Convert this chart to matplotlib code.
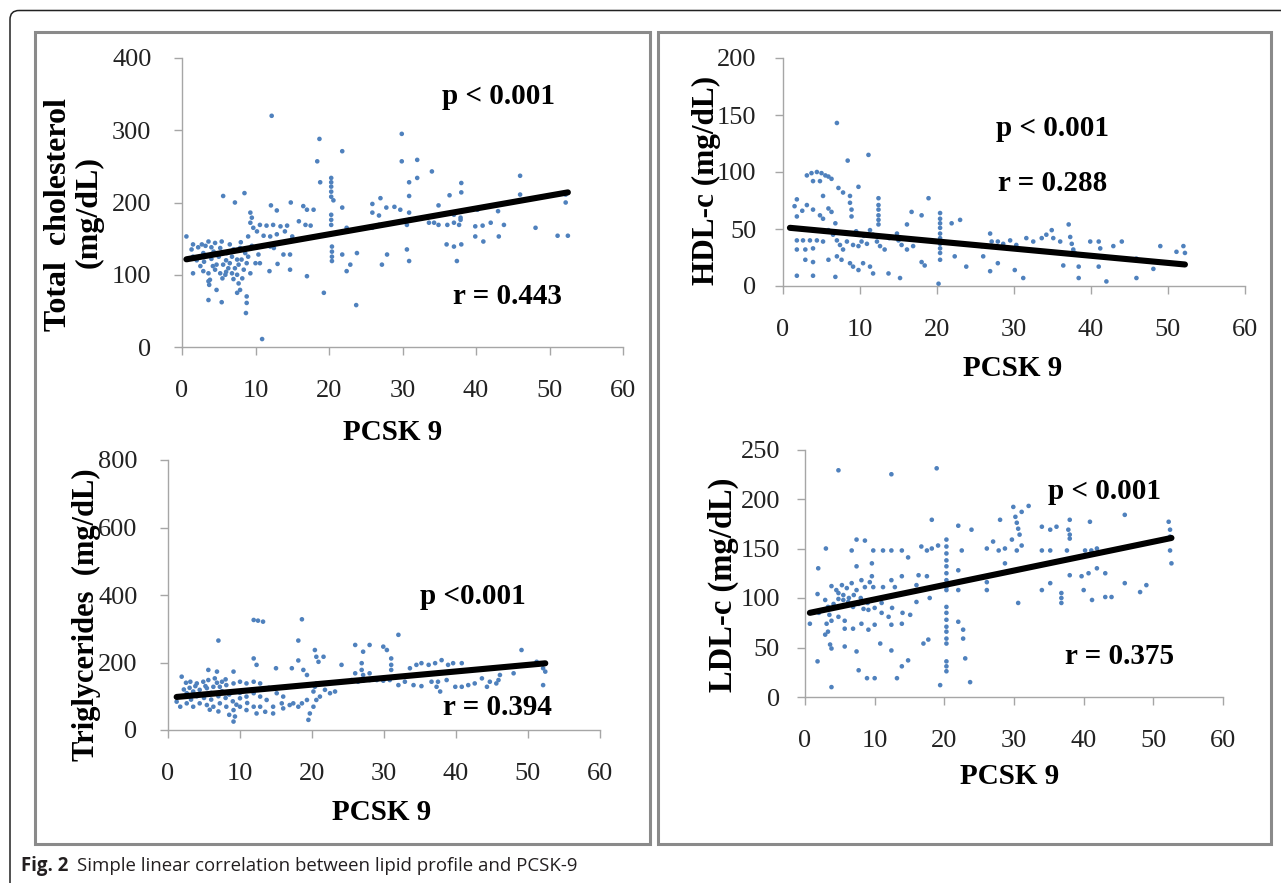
import matplotlib
matplotlib.use("Agg")
import matplotlib.pyplot as plt
from matplotlib.patches import FancyBboxPatch, Rectangle
from matplotlib.transforms import Affine2D
import numpy as np

# ---------------------------------------------------------------- data
# PCSK9 (x) against each lipid (y); one point per subject
tc_pcsk = [12.2, 18.7, 21.8, 29.9, 18.4, 29.9, 32, 34, 32, 30.9, 18.8,
           20.3, 20.3, 20.3, 20.3, 20.3, 20.6,
           46, 38, 38, 8.5, 5.6, 7.2, 27, 25.9, 30.9, 36.4, 46, 52.2, 52.2,
           12.1, 12.9, 14.8, 16.5, 17, 17.9, 21.8,
           25.9, 26.8, 27.8, 28.9, 29.7, 30.9, 30.9, 34.9, 40.2, 41, 43,
           9.3, 9.5, 9.3, 9.7, 10.6, 11.5, 12.4, 13.4, 14.3,
           15.9, 16.8, 17.5, 20.3, 20.3, 20.3, 22.4, 25.9, 26.8, 30.6,
           33.6, 34.3, 34.9, 36.1, 37, 37.7, 37.9, 39.9, 40.9, 42, 43.8, 37.9, 37,
           0.6, 1.5, 2.7, 3.6, 4.5, 5.4,
           9, 10.2, 11.1, 12, 12.9, 14, 15,
           20.4, 20.4, 20.4, 20.4, 21.8, 22.9, 22.4, 23.8, 27.2, 27.9, 30.6, 30.9,
           36, 37, 38, 37.4, 39.9, 41, 43.1, 48.1, 51.1, 52.5,
           1.5, 2.5, 2.9, 3.6, 3.8, 4.5, 4.7, 5.2, 5.6, 5.9, 6.3, 6.5, 6.8, 7.2,
           7.5, 7.7, 8.1, 8.4, 8.8, 9.0, 9.3, 10, 10.4, 10.6,
           1.5, 2.9, 4.3, 5.2, 6.1, 7, 7.9, 8.6,
           3.6, 3.7, 4.7, 7.7, 7.9, 7.5, 8.8, 8.8, 3.6, 5.4, 8.7,
           11.9, 13, 13.8, 14.7, 14.7, 17, 19.3, 23.7, 10.9, 10.6, 12, 12.5,
           2, 3, 4, 5, 6, 6.8, 7.5, 8.2, 5.5, 4.2, 6, 7, 1.3, 2.2, 3.2, 4, 9.5, 8, 6.5]
tc_value = [320, 288, 271, 295, 257, 257, 259, 243, 234, 228, 228,
            234, 228, 222, 215, 208, 203,
            237, 227, 214, 213, 209, 200, 206, 198, 209, 210, 211, 211, 200,
            196, 189, 200, 195, 190, 190, 193,
            186, 182, 193, 194, 190, 186, 176, 196, 190, 193, 188,
            186, 179, 172, 165, 169, 168, 169, 167, 168,
            174, 169, 168, 183, 176, 169, 165, 165, 169, 169,
            172, 172, 169, 169, 172, 169, 176, 167, 168, 172, 169, 179, 183,
            153, 142, 142, 146, 144, 146,
            153, 160, 154, 153, 156, 160, 153,
            139, 132, 125, 119, 128, 114, 105, 130, 114, 128, 135, 119,
            142, 139, 142, 119, 153, 146, 153, 165, 154, 154,
            102, 112, 105, 102, 93, 107, 114, 102, 114, 100, 109, 116, 102, 109,
            121, 114, 121, 107, 116, 125, 102, 116, 128, 116,
            125, 130, 132, 137, 130, 135, 137, 130,
            91, 86, 79, 88, 79, 75, 70, 61, 65, 62, 47,
            105, 115, 128, 128, 107, 98, 75, 58, 11, 139, 139, 137,
            120, 118, 122, 125, 120, 125, 100, 95, 95, 112, 104, 94, 135, 138, 140, 138, 140, 145, 142]

hdl_pcsk = [7.0, 11.1, 8.4,
            3.1, 3.7, 4.4, 5.0, 5.5, 5.9, 6.3, 3.9, 4.8,
            9.8, 7.2, 7.8, 8.7, 8.7, 8.9, 8.9, 5.2, 1.8, 1.8,
            3.1, 3.9, 4.8, 5.2, 5.9, 6.3,
            12.4, 12.4, 12.4, 12.4, 12.4, 12.4, 18.9, 16.7, 18,
            20.4, 20.4, 20.4, 20.4, 20.4, 20.4, 20.4, 20.4, 20.4, 20.4, 20.2,
            21.9, 23, 16.1,
            0.9, 1.8, 2.6, 3.5, 4.4, 5.2, 5.9, 6.5, 7, 7.4, 7.8,
            8.3, 9.1, 9.8, 10.2, 10.9, 11.3, 11.7, 12.2, 12.6, 13.2,
            14.8, 15, 15.4, 16.1, 16.9, 1.8, 2.9, 3.9,
            2.9, 3.9, 5.9, 7, 7.6, 8.7, 9.1, 9.8, 10.4, 11.3,
            11.7, 13.7, 15.2, 1.8, 3.9, 6.8, 18, 18.4, 22.3, 23.8,
            25.8, 26, 26.9, 27.1, 27.9, 28.6, 29.5, 30.3, 30.6,
            26.9, 27.9, 30.1, 31.2,
            31.6, 32.5, 33.6, 34.2, 34.9, 35.1, 36,
            36.4, 37.1, 37.3, 37.5, 37.7, 37.9, 38.4, 38.4,
            39.9, 41, 41.2, 42, 41,
            42.9, 44, 45.9, 45.9, 48.1, 49, 51.1, 52, 52.2,
            1.5, 2.5, 6.8, 9.5, 10.5, 13.8]
hdl_value = [143, 115, 110,
             97, 99, 100, 99, 97, 96, 94, 92, 92,
             87, 86, 82, 79, 73, 67, 61, 79, 76, 61,
             71, 67, 62, 59, 68, 65,
             77, 71, 67, 62, 58, 54, 77, 65, 62,
             64, 59, 55, 51, 46, 42, 37, 33, 29, 23, 2,
             55, 58, 54,
             51, 40, 40, 40, 40, 39, 49, 45, 40, 36, 32,
             39, 36, 35, 39, 37, 49, 45, 39, 35, 32,
             46, 40, 36, 32, 35, 32, 32, 33,
             23, 21, 23, 26, 23, 20, 17, 14, 20, 17,
             11, 11, 7, 9, 9, 8, 21, 18, 26, 17,
             35, 26, 46, 39, 39, 37, 40, 36, 32,
             13, 20, 14, 7,
             42, 39, 42, 45, 49, 42, 39,
             18, 54, 43, 37, 32, 29, 17, 7,
             39, 39, 33, 4, 17,
             35, 39, 24, 7, 15, 35, 30, 35, 29,
             70, 66, 55, 48, 44, 42]

tg_pcsk = [11.9, 12.5, 13.2, 18.6, 7, 18.1, 32,
           26, 28, 29.9, 30.4, 20.4, 27.1, 49.1,
           11.9, 12.3, 18.1, 20.6, 20.9, 21.6, 15, 17.2, 24.1, 26.9, 26.9,
           31, 31, 31, 33.6, 34.5, 35.2, 36.2, 37.1, 38, 38.9, 39.6, 40.8,
           9.1, 6.8, 5.6, 18.8, 19.3, 26, 27.1, 28, 46.1, 48,
           51.2, 52.1, 52.4, 52.1, 45.9, 45.6,
           25.5, 26.4, 27.1, 28, 29, 29.9, 30.8,
           32, 32.9, 34.1, 35.2, 36.6, 37.5, 38.7, 37.3, 37.8,
           39.9, 40.8, 41.7, 42.6, 43.6, 44.3, 44.7,
           23.2, 22.5, 21.8, 21.1, 20.6, 20.2, 19.7, 19.3, 18.6, 18.1, 17.4, 19.5,
           20.2, 20.4, 20.6,
           1.2, 1.9, 2.6, 3.5, 4.4, 5.4, 6.3, 7.2, 8.1, 9.1, 10, 10.9, 11.9, 12.8,
           1.9, 3.1, 4, 4.9, 5.6, 6.5, 7.5,
           1.7, 2.6, 3.5, 4.4, 5.4, 6.3, 7.2, 8.1, 9.1, 9.3, 9.1, 10, 10.9, 11.9,
           12.3, 12.8, 13.5, 14.6, 14.6, 15.8, 16, 16.9, 16, 15.1,
           11.9, 12.8, 13.7, 10.9, 10,
           2.2, 3, 4, 5, 6, 7, 8, 9, 10, 6, 7.5, 8.5, 3.2, 4.8, 5.8, 7, 8.5,
           9.5, 11, 13, 14, 2.5, 3.8, 5.2, 6.8, 8]
tg_value = [326, 324, 321, 328, 265, 265, 282,
            252, 252, 247, 237, 237, 232, 237,
            212, 193, 206, 217, 202, 217, 183, 183, 193, 198, 178,
            212, 193, 178, 183, 193, 198, 193, 198, 207, 193, 198, 198,
            173, 173, 178, 178, 163, 168, 163, 168, 163, 168,
            202, 183, 173, 133, 148, 138,
            148, 143, 146, 148, 148, 146, 148,
            133, 143, 133, 130, 143, 143, 148, 128, 114,
            128, 128, 133, 138, 153, 128, 143,
            114, 109, 119, 99, 89, 69, 49, 89, 79, 69, 79, 30,
            114, 128, 138,
            84, 99, 109, 114, 119, 124, 128, 128, 133, 138, 143, 138, 143, 138,
            158, 143, 138, 143, 148, 153, 143,
            69, 79, 69, 79, 74, 69, 79, 69, 59, 40, 25, 69, 59, 69,
            49, 69, 54, 69, 49, 79, 64, 74, 99, 109,
            109, 99, 89, 99, 94,
            120, 125, 100, 95, 90, 100, 95, 85, 110, 110, 115, 105, 90, 105, 60, 55, 45,
            75, 80, 120, 125, 140, 130, 130, 140, 150]

ldl_pcsk = [4.8, 12.4, 18.9, 18.2, 22, 23.9,
            28, 29.9, 31.1, 32.1, 30.2, 30.4, 30.6, 30.8,
            34, 35.2, 36.1, 37.8, 38, 38, 38,
            40.9, 45.9, 52.2, 52.4, 52.4, 52.4, 52.6,
            7.4, 8.6, 6.7, 9.8, 11.2, 12.4, 13.9, 14.8,
            16.7, 17.5, 18.2, 19.1, 20.3, 20.3, 20.3, 20.3, 20.3, 20.3, 20.3, 20.3, 20.3,
            22.5, 22,
            26.1, 27, 27.8, 28.7, 29.7, 30.4, 31.1,
            34, 35.2, 37.6, 40.2, 41.1, 41.9,
            26.1, 26.1, 28.7,
            38, 39.7, 40.7, 41.9, 43.1,
            34, 35.2, 36.8, 36.8, 36.8, 40, 41.2, 43.1, 44, 45.9, 48.1, 49, 30.6,
            1.9, 1.8, 0.7, 1.8, 3.8,
            2.9, 3.8, 4.5, 5.3, 6, 6.7, 7.4, 8.1, 8.6, 9.3, 9.8,
            3.3, 4.1, 4.8, 5.5, 6.2, 6.9, 7.7, 8.4, 9.1,
            7.4, 9.6, 9.6, 11.2, 12.4, 12.9, 13.9, 16.3, 17.5, 16, 17.9, 16,
            22, 22, 22.7, 22.7, 23,
            20.3, 20.3, 20.3, 20.3, 20.3, 20.3, 20.3, 20.3, 20.3, 20.3, 19.4, 23.7,
            17.7, 17, 14.8, 13.9, 13.2,
            12.4, 10.8, 10, 8.9, 7.7, 7.4, 5.7, 3.8, 3.6,
            3.1, 3.3, 2.9, 3.8, 4.8, 5.7, 5.7, 6.9, 8.1, 9.1, 10, 11, 12, 12.4,
            13.9, 15.1,
            3, 4.8, 5.5, 6.3, 7, 8, 9, 10, 11, 12.5, 14, 2, 3.5]
ldl_value = [229, 225, 231, 179, 173, 169,
             179, 192, 187, 193, 182, 176, 170, 164,
             172, 169, 172, 169, 179, 164, 160,
             177, 184, 177, 169, 162, 148, 135,
             159, 158, 148, 148, 148, 148, 148, 141,
             152, 148, 150, 153, 159, 152, 145, 138, 132, 125, 118, 111, 108,
             148, 128,
             150, 157, 148, 150, 159, 148, 153,
             148, 148, 148, 148, 148, 150,
             116, 108, 135,
             123, 122, 125, 130, 125,
             108, 115, 105, 100, 95, 108, 98, 101, 101, 115, 106, 113, 95,
             130, 104, 74, 36, 10,
             98, 112, 108, 113, 110, 115, 108, 118, 111, 116, 111,
             91, 94, 99, 98, 96, 91, 94, 89, 88,
             132, 135, 122, 111, 118, 111, 122, 123, 122, 96, 100, 113,
             108, 76, 68, 59, 39,
             91, 85, 78, 71, 66, 59, 54, 36, 31, 26, 12, 15,
             58, 54, 37, 31, 19,
             47, 54, 19, 19, 27, 46, 51, 49, 53,
             74, 66, 63, 77, 81, 77, 69, 69, 74, 68, 73, 85, 81, 73,
             74, 83,
             150, 105, 103, 100, 103, 100, 95, 90, 95, 90, 85, 85, 83]

# fitted regression lines (intercept, slope) and reported statistics
tc_fit = (120.3, 1.785)
hdl_fit = (51.6, -0.627)
tg_fit = (95.6, 1.947)
ldl_fit = (84.0, 1.457)

tc_stats = ("p < 0.001", "r = 0.443")
hdl_stats = ("p < 0.001", "r = 0.288")
tg_stats = ("p <0.001", "r = 0.394")
ldl_stats = ("p < 0.001", "r = 0.375")

x_ticks = [0, 10, 20, 30, 40, 50, 60]
x_label = "PCSK 9"
caption_bold = "Fig. 2"
caption_text = "Simple linear correlation between lipid profile and PCSK-9"

# ---------------------------------------------------------------- figure
W, H = 1281, 883
plt.rcParams["font.family"] = ["Liberation Serif", "DejaVu Serif"]
fig = plt.figure(figsize=(W / 100, H / 100), dpi=100)
fig.patch.set_facecolor("white")

# pixel coordinates measured from the top-left corner
PX = Affine2D().scale(1 / W, -1 / H).translate(0, 1) + fig.transFigure


def axes_at(x0, x1, y0, y1):
    """Axes spanning pixel columns x0..x1 and rows y1 (top) .. y0 (bottom)."""
    return fig.add_axes([x0 / W, 1 - y0 / H, (x1 - x0) / W, (y0 - y1) / H])


DOT = "#4F81BD"
AXIS_GREY = "#A6A6A6"


def draw_panel(ax, xs, ys, fit, ymax, ystep, stats, stat_pos, ypad):
    ax.scatter(xs, ys, s=11, color=DOT, edgecolors="none", zorder=2, clip_on=False)
    xf = np.array([min(xs), max(xs)])
    ax.plot(xf, fit[0] + fit[1] * xf, color="black", lw=4.4,
            solid_capstyle="round", zorder=3)
    ax.set_xlim(0, 60)
    ax.set_ylim(0, ymax)
    ax.set_xticks(x_ticks)
    ax.set_yticks(np.arange(0, ymax + 1, ystep))
    for s in ("top", "right"):
        ax.spines[s].set_visible(False)
    for s in ("left", "bottom"):
        ax.spines[s].set_color(AXIS_GREY)
        ax.spines[s].set_linewidth(1.0)
    ax.tick_params(axis="both", direction="out", length=6, width=1.0,
                   color=AXIS_GREY, labelsize=19, labelcolor="#222222")
    ax.tick_params(axis="x", pad=17.5)
    ax.tick_params(axis="y", pad=ypad)
    ax.patch.set_alpha(0)
    for txt, (tx, ty) in zip(stats, stat_pos):
        fig.text(tx, ty, txt, transform=PX, ha="center", va="baseline",
                 fontsize=21, fontweight="bold")


# Total cholesterol
ax1 = axes_at(182, 623, 347, 58)
draw_panel(ax1, tc_pcsk, tc_value, tc_fit, 400, 100, tc_stats,
           [(499, 104), (507, 304)], 16)
# HDL-c
ax2 = axes_at(783, 1245, 286, 58)
draw_panel(ax2, hdl_pcsk, hdl_value, hdl_fit, 200, 50, hdl_stats,
           [(1053, 136), (1053, 191)], 13)
# Triglycerides
ax3 = axes_at(168, 600, 730, 460)
draw_panel(ax3, tg_pcsk, tg_value, tg_fit, 800, 200, tg_stats,
           [(473, 604), (497, 715)], 16)
# LDL-c
ax4 = axes_at(805, 1223, 697, 449.5)
draw_panel(ax4, ldl_pcsk, ldl_value, ldl_fit, 250, 50, ldl_stats,
           [(1105, 499), (1120, 664)], 12)

# axis titles
for (cx, cy) in [(393, 432), (1013, 368), (382, 812), (1010, 776)]:
    fig.text(cx, cy, x_label, transform=PX, ha="center", va="center",
             fontsize=21, fontweight="bold")

ylab = dict(transform=PX, ha="center", va="center", rotation=90,
            fontweight="bold")
fig.text(58, 215, "Total  cholesterol", fontsize=23, **ylab)
fig.text(89, 212, "(mg/dL)", fontsize=23, **ylab)
fig.text(706, 180, "HDL-c (mg/dL)", fontsize=22.5, **ylab)
fig.text(86, 615, "Triglycerides  (mg/dL)", fontsize=22, **ylab)
fig.text(723, 585, "LDL-c (mg/dL)", fontsize=23.5, **ylab)

# grey boxes around the two columns of charts
for (x0, x1) in [(35, 650), (658, 1271)]:
    fig.add_artist(Rectangle((x0, 32), x1 - x0, 844 - 32, transform=PX,
                             fill=False, edgecolor="#8A8A8A", lw=2.2))

# outer frame with rounded top-left corner
fig.add_artist(FancyBboxPatch((10, 10.5), 1400, 1000,
                              boxstyle="round,pad=0,rounding_size=9",
                              transform=PX, fill=False, edgecolor="#222222",
                              lw=1.1))

# caption
cap1 = fig.text(21, 871, caption_bold, transform=PX, ha="left", va="baseline",
                fontsize=13.4, fontweight="bold", family="Open Sans",
                color="#231F20")
fig.canvas.draw()
bb = cap1.get_window_extent()
fig.text(bb.x1 + 9, H - 871, caption_text,
         transform=None, ha="left", va="baseline", fontsize=13.4,
         family="Open Sans", color="#231F20")

fig.savefig("out.png", dpi=100, facecolor="white")
